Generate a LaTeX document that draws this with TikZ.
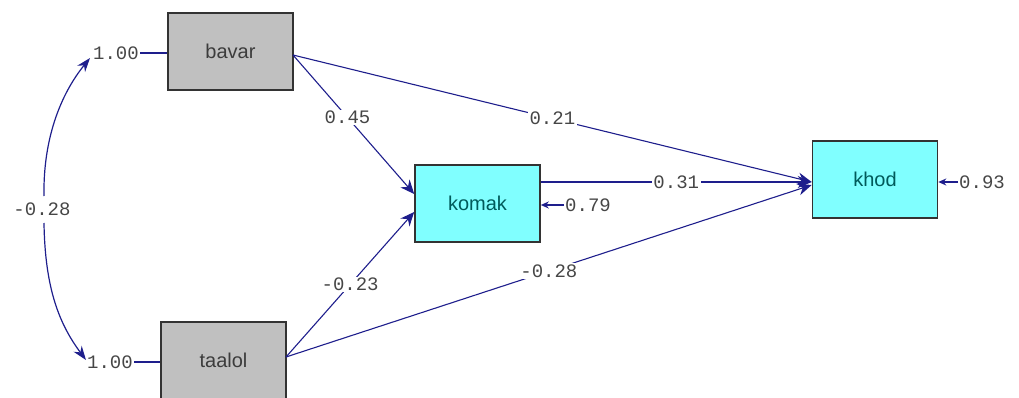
\documentclass[tikz,border=0pt]{standalone}
\usepackage{fontspec}
\setmainfont{Liberation Sans}
\newfontfamily\numfont{Liberation Mono}
\usetikzlibrary{arrows.meta}
\definecolor{navy}{RGB}{30,30,140}
\definecolor{boxgrey}{RGB}{192,192,192}
\definecolor{boxcyan}{RGB}{128,255,255}
\definecolor{tealtext}{RGB}{0,90,90}
\definecolor{greytext}{RGB}{60,60,60}
\definecolor{numtext}{RGB}{70,70,70}
\begin{document}
\begin{tikzpicture}[x=1pt,y=-1pt,
  obsbox/.style={draw=black!80,line width=1.6pt,minimum width=125pt,minimum height=77pt,inner sep=0pt,font=\fontsize{20}{22}\selectfont},
  exo/.style={obsbox,fill=boxgrey,text=greytext},
  endo/.style={obsbox,fill=boxcyan,text=tealtext},
  path/.style={draw=navy,line width=1.1pt,-{Stealth[length=14pt,width=12pt]}},
  covarr/.style={draw=navy,line width=1.2pt,-{Stealth[length=14pt,width=10pt]}},
  resid/.style={draw=navy,line width=1.6pt,-{Stealth[length=8pt,width=7pt]}},
  coef/.style={fill=white,inner sep=1.5pt,text=numtext,font=\numfont\fontsize{19}{20}\selectfont},
  varlab/.style={inner sep=1pt,text=numtext,font=\numfont\fontsize{19}{20}\selectfont}]
\useasboundingbox (0,0) rectangle (1019,398);
\node[exo] (bavar) at (230.5,51.5) {bavar};
\node[exo] (taalol) at (223.5,360.5) {taalol};
\node[endo] (komak) at (477.5,203.5) {komak};
\node[endo] (khod) at (875,179.5) {khod};
% variances
\node[varlab] (vb) at (116,53) {1.00};
\node[varlab] (vt) at (110,362) {1.00};
\draw[navy,line width=1.2pt] (vb.east) -- (bavar.west |- vb.east);
\draw[navy,line width=1.2pt] (vt.east) -- (taalol.west |- vt.east);
% covariance
\node[varlab] (cov) at (42,209) {-0.28};
\coordinate (ct) at (90,58);
\coordinate (cb) at (86,360);
\coordinate (cu) at (44,196);
\coordinate (cd) at (44,223);
\draw[covarr] (cu) .. controls (43,140) and (60,95) .. (ct);
\draw[covarr] (cd) .. controls (45,290) and (60,325) .. (cb);
% paths
\coordinate (bo) at (293,55);
\coordinate (to) at (286,357);
\draw[path] (bo) -- node[coef,pos=0.45] (c1) {0.45} (komak.west |- 0,194);
\draw[path] (bo) -- node[coef,pos=0.5] (c2) {0.21} (khod.west |- 0,182);
\draw[path] (to) -- node[coef,pos=0.5] (c3) {-0.23} (komak.west |- 0,212);
\draw[path] (to) -- node[coef,pos=0.5] (c4) {-0.28} (khod.west |- 0,185);
\draw[path] (komak.east |- 0,182) -- node[coef,pos=0.5] (c5) {0.31} (khod.west |- 0,182);
% residuals
\node[varlab,anchor=west] (rk) at (564,205) {0.79};
\node[varlab,anchor=west] (rh) at (958,182) {0.93};
\draw[resid] (rk.west) -- (komak.east |- rk.west);
\draw[resid] (rh.west) -- (khod.east |- rh.west);
\end{tikzpicture}
\end{document}
